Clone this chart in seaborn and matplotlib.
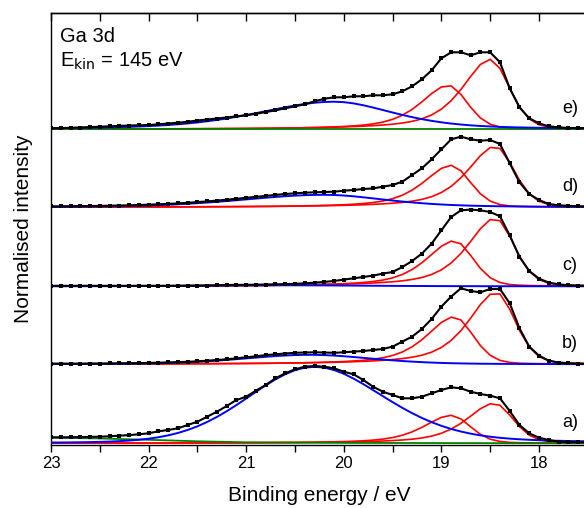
import numpy as np
import pandas as pd
import matplotlib
matplotlib.use("Agg")
import matplotlib.pyplot as plt
import seaborn as sns
from matplotlib.ticker import MultipleLocator

# ---------------- data ----------------
binding_energy = [23.0, 22.9, 22.8, 22.7, 22.6, 22.5, 22.4, 22.3, 22.2, 22.1,
                  22.0, 21.9, 21.8, 21.7, 21.6, 21.5, 21.4, 21.3, 21.2, 21.1,
                  21.0, 20.9, 20.8, 20.7, 20.6, 20.5, 20.4, 20.3, 20.2, 20.1,
                  20.0, 19.9, 19.8, 19.7, 19.6, 19.5, 19.4, 19.3, 19.2, 19.1,
                  19.0, 18.9, 18.8, 18.7, 18.6, 18.5, 18.4, 18.3, 18.2, 18.1,
                  18.0, 17.9, 17.8, 17.7, 17.6, 17.5]

spectra = ["a)", "b)", "c)", "d)", "e)"]
offsets = [0, 79, 157, 236, 314]

# measured points (normalised intensity, same grid as binding_energy)
data_a = [6.0, 6.0, 6.1, 6.2, 6.4, 6.6, 7.0, 7.6, 8.2, 9.0,
          10.0, 12.0, 13.3, 15.0, 18.3, 21.6, 26.6, 31.6, 37.3, 43.3,
          46.6, 52.6, 58.3, 65.0, 70.0, 74.0, 76.6, 77.3, 76.6, 75.0,
          71.6, 69.0, 63.3, 56.6, 51.6, 48.3, 45.0, 45.0, 46.6, 50.0,
          53.3, 56.0, 55.0, 51.6, 49.3, 47.6, 45.0, 32.3, 18.3, 10.0,
          5.6, 3.3, 1.6, 1.0, 1.0, 0.8]
data_b = [0.7, 0.7, 0.7, 0.7, 0.8, 0.8, 0.9, 1.0, 1.1, 1.2,
          1.4, 1.6, 1.9, 2.2, 2.5, 3.0, 3.6, 4.3, 5.0, 6.0,
          7.0, 8.0, 9.2, 10.0, 10.8, 11.5, 11.8, 12.0, 11.8, 11.5,
          12.0, 12.7, 13.3, 14.3, 15.3, 17.7, 22.7, 27.7, 35.3, 45.3,
          57.7, 67.7, 76.0, 73.3, 72.0, 75.3, 75.3, 61.0, 36.0, 17.7,
          8.7, 3.7, 1.7, 1.0, 0.7, 0.5]
data_c = [0.5, 0.5, 0.5, 0.5, 0.5, 0.5, 0.5, 0.5, 0.5, 0.5,
          0.5, 0.5, 0.5, 0.6, 0.6, 0.7, 0.8, 1.0, 1.3, 1.4,
          1.5, 1.6, 1.8, 2.0, 2.2, 2.5, 3.0, 3.6, 4.4, 5.3,
          6.7, 8.0, 9.3, 10.7, 12.7, 14.3, 19.3, 25.3, 32.7, 42.7,
          56.0, 69.3, 76.0, 76.7, 76.0, 74.3, 70.0, 51.0, 29.3, 15.3,
          7.7, 3.7, 2.0, 1.0, 0.7, 0.5]
data_d = [0.9, 1.0, 1.1, 1.2, 1.3, 1.4, 1.6, 1.8, 2.0, 2.3,
          2.6, 3.0, 3.4, 3.9, 4.5, 5.2, 5.9, 6.7, 7.6, 8.5,
          9.5, 10.4, 11.4, 12.4, 13.3, 14.0, 14.6, 15.0, 15.3, 15.6,
          16.6, 17.3, 18.3, 18.9, 20.6, 22.3, 25.6, 32.3, 39.0, 48.0,
          58.0, 68.0, 70.6, 68.0, 66.6, 67.3, 63.3, 44.0, 25.0, 13.3,
          7.3, 3.3, 2.0, 1.5, 1.0, 0.8]
data_e = [1.0, 1.2, 1.5, 1.8, 2.2, 2.6, 3.0, 3.4, 3.8, 4.0,
          4.3, 5.0, 5.8, 6.6, 7.5, 8.8, 9.8, 10.8, 11.8, 13.0,
          14.0, 15.5, 17.2, 19.0, 21.0, 23.0, 25.0, 28.0, 30.5, 32.0,
          32.0, 33.0, 33.0, 34.0, 34.0, 35.0, 38.0, 43.0, 50.0, 59.0,
          71.0, 77.0, 77.0, 74.0, 77.0, 77.0, 67.0, 41.0, 22.0, 11.0,
          6.0, 3.0, 2.0, 1.3, 1.3, 1.0]
measured = [data_a, data_b, data_c, data_d, data_e]

# Ga 3d fit components: red doublet (3d5/2, 3d3/2) and blue broad component
red1_center = [18.46, 18.44, 18.45, 18.45, 18.50]
red1_height = [40.0, 72.0, 68.0, 61.0, 70.0]
red2_center = [18.90, 18.87, 18.87, 18.90, 18.93]
red2_height = [28.0, 47.5, 45.5, 42.0, 44.0]
red_shape = [0.68, 0.46, 0.7, 0.2]          # w_high, w_low, mix_high, mix_low

blue_center = [20.30, 20.35, 20.60, 20.20, 20.10]
blue_height = [76.5, 9.5, 1.0, 12.5, 27.6]
blue_w_high = [1.60, 1.60, 2.0, 2.0, 1.85]
blue_w_low = [1.70, 1.50, 2.0, 1.5, 1.45]
blue_m_high = [0.12, 0.3, 0.3, 0.3, 0.45]
blue_m_low = [0.3, 0.3, 0.3, 0.5, 0.5]

# background (green) knots, drawn for a) and e)
bg_energy = [23.0, 22.5, 22.0, 21.5, 21.0, 20.0, 17.5]
bg_values = [[5.6, 4.8, 3.5, 2.0, 1.0, 0.4, 0.0],
             None,
             None,
             None,
             [0.3, 0.3, 0.3, 0.3, 0.3, 0.3, 0.3]]


def peak(x, c, h, w_hi, w_lo, m_hi, m_lo):
    d = x - c
    w = np.where(d > 0, w_hi, w_lo)
    m = np.where(d > 0, m_hi, m_lo)
    g = np.exp(-4 * np.log(2) * d ** 2 / w ** 2)
    lor = 1.0 / (1.0 + 4 * d ** 2 / w ** 2)
    return h * ((1 - m) * g + m * lor)


# ---------------- figure ----------------
sns.set_theme(style="ticks")
plt.rcParams["font.family"] = ["Liberation Sans", "DejaVu Sans"]
plt.rcParams["axes.edgecolor"] = "black"
plt.rcParams["xtick.color"] = "black"
plt.rcParams["text.color"] = "black"
plt.rcParams["axes.labelcolor"] = "black"

W, H = 584, 508
fig = plt.figure(figsize=(W / 100, H / 100), dpi=100)
ax = fig.add_axes([51 / W, 63.5 / H, 536.8 / W, 431.5 / H])

x = np.array(binding_energy)
for i, lab in enumerate(spectra):
    off = offsets[i]
    r1 = peak(x, red1_center[i], red1_height[i], *red_shape)
    r2 = peak(x, red2_center[i], red2_height[i], *red_shape)
    bl = peak(x, blue_center[i], blue_height[i], blue_w_high[i], blue_w_low[i],
              blue_m_high[i], blue_m_low[i])
    y = np.array(measured[i]) + off

    sns.lineplot(x=x, y=r1 + off, color="#ff0000", lw=1.2, ax=ax, sort=False, zorder=2)
    sns.lineplot(x=x, y=r2 + off, color="#ff0000", lw=1.2, ax=ax, sort=False, zorder=2)
    if bg_values[i] is not None:
        bg = np.interp(x[::-1], bg_energy[::-1], bg_values[i][::-1])[::-1]
        sns.lineplot(x=x, y=bg + off, color="#008000", lw=1.3, ax=ax, sort=False, zorder=3)
    sns.lineplot(x=x, y=bl + off, color="#0000ff", lw=1.4, ax=ax, sort=False, zorder=4)
    sns.lineplot(x=x, y=y, color="black", lw=1.5, ax=ax, sort=False, zorder=5)
    sns.scatterplot(x=x, y=y, color="black", marker="s", s=7, linewidth=0,
                    ax=ax, zorder=6)
    ax.text(17.68, off + 21, lab, fontsize=13, ha="center", va="center")

ax.set_xlim(23, 17.5)
ax.set_ylim(-1.2, 430.3)
ax.set_yticks([])
ax.xaxis.set_major_locator(MultipleLocator(1))
ax.xaxis.set_minor_locator(MultipleLocator(0.5))
ax.tick_params(axis="x", which="both", direction="out", length=5, width=1,
               labelsize=12, top=False)
sec = ax.secondary_xaxis("top")
sec.xaxis.set_major_locator(MultipleLocator(1))
sec.xaxis.set_minor_locator(MultipleLocator(0.5))
sec.tick_params(axis="x", which="both", direction="in", length=6, width=1,
                labeltop=False)
for s in ["left", "bottom", "top"]:
    ax.spines[s].set_linewidth(1.0)
ax.spines["right"].set_visible(False)
sec.spines["top"].set_linewidth(1.0)

ax.set_xlabel("Binding energy / eV", fontsize=15, labelpad=10.5)
ax.set_ylabel("Normalised intensity", fontsize=15, labelpad=13)

fig.text(60 / W, 1 - 42 / H, "Ga 3d", fontsize=14.5, va="baseline", ha="left")
fig.text(60 / W, 1 - 67 / H, r"E$_{\mathrm{kin}}$ = 145 eV", fontsize=14.5,
         va="baseline", ha="left")

fig.savefig("out.png", dpi=100)
